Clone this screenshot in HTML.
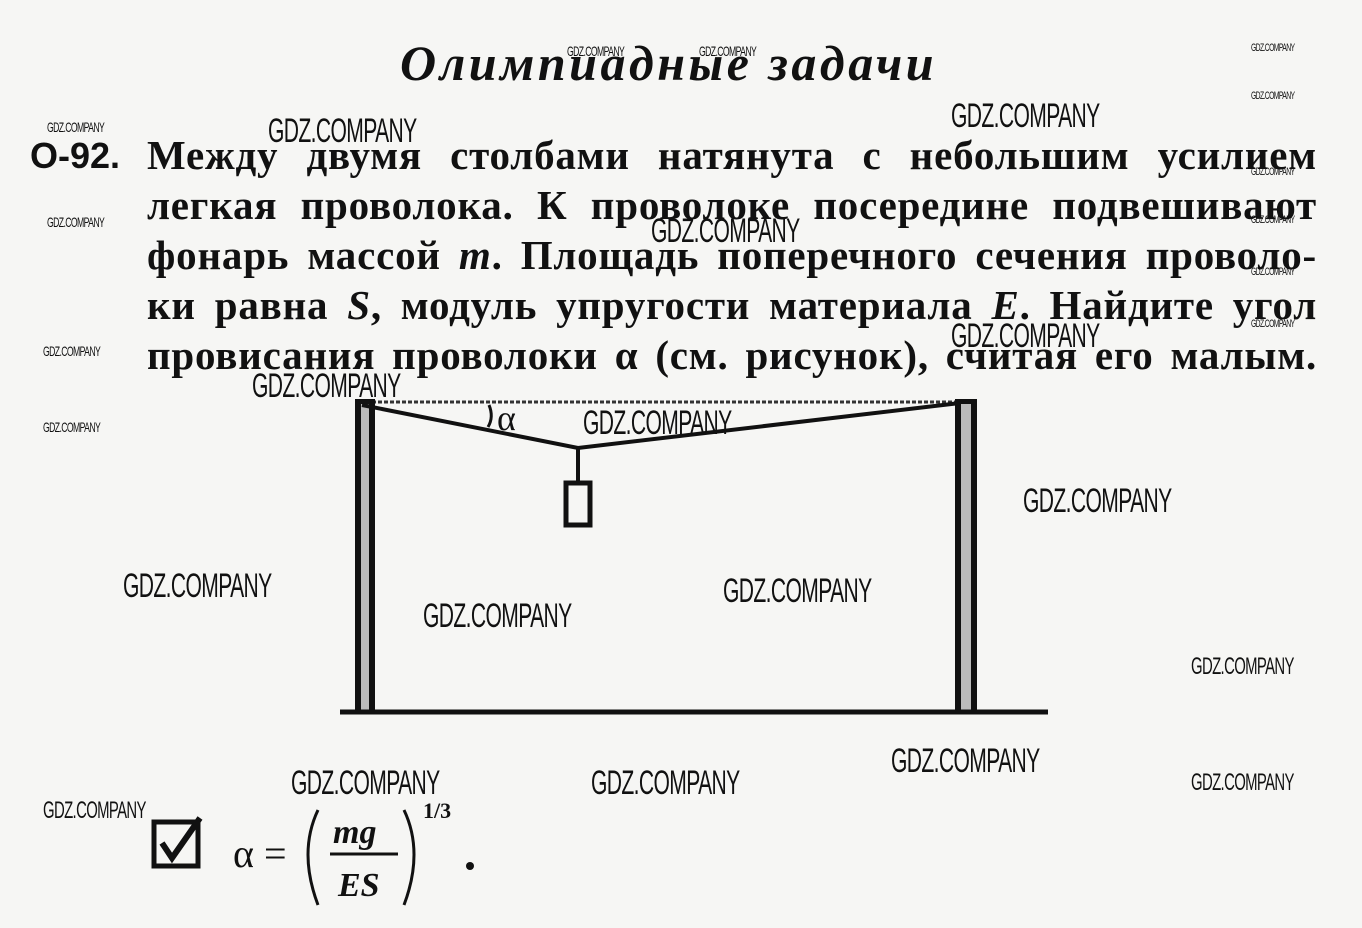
<!DOCTYPE html>
<html><head><meta charset="utf-8"><style>
body{margin:0;width:1362px;height:928px;background:#f6f6f4;position:relative;overflow:hidden;font-family:"Liberation Serif",serif;color:#111}
.t{position:absolute;left:147px;width:1170px;font-weight:bold;font-size:41px;letter-spacing:0.8px;line-height:50px;text-align:justify;text-align-last:justify;white-space:nowrap}
.w{position:absolute;font-family:"Liberation Sans",sans-serif;color:#111;transform-origin:0 0;transform:scaleX(0.62);white-space:nowrap;font-weight:normal;letter-spacing:-1px}
.L{font-size:34px}.S{font-size:14px}.M{font-size:24px}
</style></head><body>
<div style="position:absolute;left:400px;top:34px;font:bold italic 50px 'Liberation Serif',serif;letter-spacing:3.5px">Олимпиадные задачи</div>
<div style="position:absolute;left:30px;top:135px;font:bold 36px 'Liberation Sans',sans-serif">О-92.</div>
<div class="t" style="top:130px">Между двумя столбами натянута с небольшим усилием</div>
<div class="t" style="top:180px">легкая проволока. К проволоке посередине подвешивают</div>
<div class="t" style="top:230px">фонарь массой <i>m</i>. Площадь поперечного сечения проволо-</div>
<div class="t" style="top:280px">ки равна <i>S</i>, модуль упругости материала <i>E</i>. Найдите угол</div>
<div class="t" style="top:330px">провисания проволоки α (см. рисунок), считая его малым.</div>
<svg style="position:absolute;left:0;top:0" width="1362" height="928">
<line x1="360" y1="402" x2="968" y2="402" stroke="#333" stroke-width="3" stroke-dasharray="4,2"/>
<rect x="355" y="400" width="20" height="312" fill="#bbb"/>
<rect x="355" y="400" width="6" height="312" fill="#111"/><rect x="369" y="400" width="6" height="312" fill="#111"/>
<rect x="955" y="400" width="22" height="312" fill="#bbb"/>
<rect x="955" y="400" width="6" height="312" fill="#111"/><rect x="971" y="400" width="6" height="312" fill="#111"/>
<rect x="355" y="399" width="20" height="5" fill="#111"/><rect x="955" y="399" width="22" height="5" fill="#111"/>
<line x1="340" y1="712" x2="1048" y2="712" stroke="#111" stroke-width="5"/>
<polyline points="362,405 578,448 960,403" fill="none" stroke="#111" stroke-width="4"/>
<line x1="578" y1="448" x2="578" y2="481" stroke="#111" stroke-width="4"/>
<rect x="566" y="483" width="24" height="42" fill="none" stroke="#111" stroke-width="5"/>
<path d="M489,405 Q494,417 488,427" fill="none" stroke="#111" stroke-width="3"/>
<text x="497" y="430" font-family="Liberation Serif" font-size="36" fill="#111">α</text>
<rect x="154" y="822" width="44" height="44" fill="none" stroke="#111" stroke-width="5"/>
<path d="M162,843 L172,858 L200,818" fill="none" stroke="#111" stroke-width="6"/>
<text x="233" y="867" font-family="Liberation Serif" font-size="40" fill="#111">α =</text>
<path d="M318,810 Q298,852 318,905" fill="none" stroke="#111" stroke-width="3"/>
<path d="M404,810 Q424,852 404,905" fill="none" stroke="#111" stroke-width="3"/>
<text x="333" y="843" font-family="Liberation Serif" font-size="34" font-weight="bold" font-style="italic" fill="#111">mg</text>
<line x1="330" y1="854" x2="398" y2="854" stroke="#111" stroke-width="3"/>
<text x="338" y="896" font-family="Liberation Serif" font-size="34" font-weight="bold" font-style="italic" fill="#111">ES</text>
<text x="423" y="818" font-family="Liberation Serif" font-size="22" font-weight="bold" fill="#111">1/3</text>
<circle cx="470" cy="866" r="4" fill="#111"/>
</svg>
<div class="w L" style="left:268px;top:112px">GDZ.COMPANY</div>
<div class="w L" style="left:951px;top:97px">GDZ.COMPANY</div>
<div class="w L" style="left:651px;top:212px">GDZ.COMPANY</div>
<div class="w L" style="left:951px;top:317px">GDZ.COMPANY</div>
<div class="w L" style="left:252px;top:367px">GDZ.COMPANY</div>
<div class="w L" style="left:583px;top:404px">GDZ.COMPANY</div>
<div class="w L" style="left:1023px;top:482px">GDZ.COMPANY</div>
<div class="w L" style="left:123px;top:567px">GDZ.COMPANY</div>
<div class="w L" style="left:423px;top:597px">GDZ.COMPANY</div>
<div class="w L" style="left:723px;top:572px">GDZ.COMPANY</div>
<div class="w L" style="left:891px;top:742px">GDZ.COMPANY</div>
<div class="w L" style="left:291px;top:764px">GDZ.COMPANY</div>
<div class="w L" style="left:591px;top:764px">GDZ.COMPANY</div>
<div class="w M" style="left:1191px;top:653px">GDZ.COMPANY</div>
<div class="w M" style="left:1191px;top:769px">GDZ.COMPANY</div>
<div class="w M" style="left:43px;top:797px">GDZ.COMPANY</div>
<div class="w S" style="left:567px;top:43px">GDZ.COMPANY</div>
<div class="w S" style="left:699px;top:43px">GDZ.COMPANY</div>
<div class="w S" style="left:47px;top:119px">GDZ.COMPANY</div>
<div class="w S" style="left:47px;top:214px">GDZ.COMPANY</div>
<div class="w S" style="left:43px;top:343px">GDZ.COMPANY</div>
<div class="w S" style="left:43px;top:419px">GDZ.COMPANY</div>
<div class="w S" style="left:1251px;top:42px;font-size:11px">GDZ.COMPANY</div>
<div class="w S" style="left:1251px;top:90px;font-size:11px">GDZ.COMPANY</div>
<div class="w S" style="left:1251px;top:166px;font-size:11px">GDZ.COMPANY</div>
<div class="w S" style="left:1251px;top:214px;font-size:11px">GDZ.COMPANY</div>
<div class="w S" style="left:1251px;top:266px;font-size:11px">GDZ.COMPANY</div>
<div class="w S" style="left:1251px;top:318px;font-size:11px">GDZ.COMPANY</div>
</body></html>
